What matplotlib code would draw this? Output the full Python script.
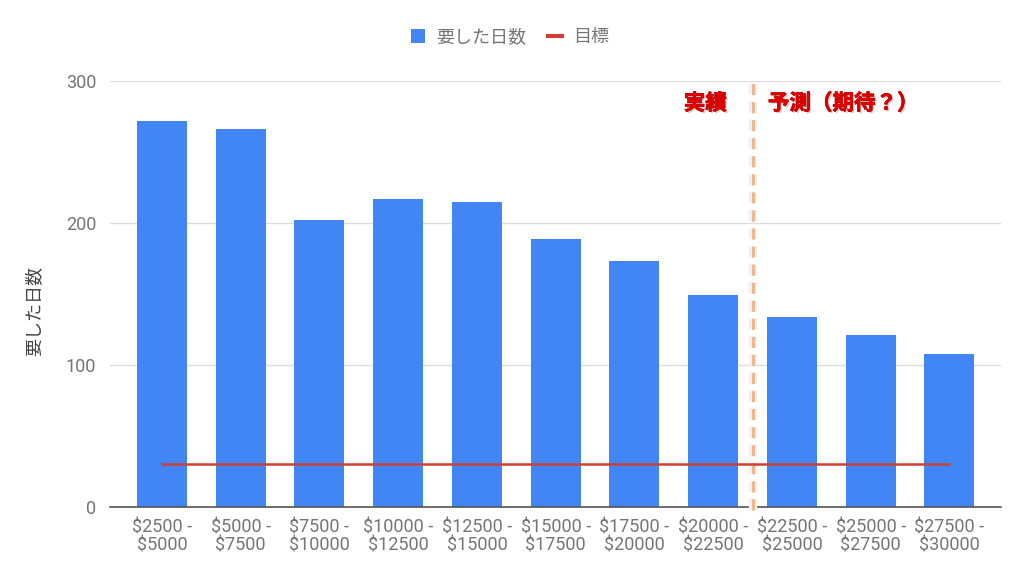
import numpy as np
import matplotlib
matplotlib.use("Agg")
import matplotlib.pyplot as plt
import matplotlib.patheffects as pe
from matplotlib.lines import Line2D
from matplotlib.patches import Patch

plt.rcParams['font.family'] = ['Roboto', 'Noto Sans CJK JP', 'DejaVu Sans']

ranges = ["$2500 -\n$5000", "$5000 -\n$7500", "$7500 -\n$10000", "$10000 -\n$12500",
          "$12500 -\n$15000", "$15000 -\n$17500", "$17500 -\n$20000", "$20000 -\n$22500",
          "$22500 -\n$25000", "$25000 -\n$27500", "$27500 -\n$30000"]
days_needed = [272, 266, 202, 217, 215, 189, 173, 149, 134, 121, 108]
target = [30] * len(ranges)
split_at = 7.5  # between actual and forecast
y_ticks = [0, 100, 200, 300]

bar_color = "#4285F4"
target_color = "#CC4136"
grey = "#757575"

fig = plt.figure(figsize=(10.2, 5.74), dpi=100)
ax = fig.add_axes([0.1078, 0.1167, 0.8732, 0.7422])

x = np.arange(len(ranges))
ax.bar(x, days_needed, width=0.635, color=bar_color, zorder=2)
ax.plot(x, target, color=target_color, lw=1.8, zorder=6)

ax.set_xlim(-0.66, len(ranges) - 1 + 0.65)
ax.set_ylim(0, 300)
ax.set_yticks(y_ticks)
ax.set_xticks(x)
ax.set_xticklabels(ranges, linespacing=1.05)
ax.tick_params(axis='both', length=0, labelsize=13, colors=grey)
ax.tick_params(axis='x', pad=8)
ax.tick_params(axis='y', pad=10)
ax.grid(axis='y', color="#DDDDDD", lw=1, zorder=0)
for s in ['top', 'right', 'left']:
    ax.spines[s].set_visible(False)
ax.spines['bottom'].set_color("#555555")
ax.spines['bottom'].set_linewidth(1.2)
ax.spines['bottom'].set_zorder(4)

ax.set_ylabel("要した日数", fontsize=13, color="#444444")
ax.yaxis.set_label_coords(-0.075, 0.46)

# actual / forecast divider
ax.plot([split_at, split_at], [-2, 300], color="#F4B183", lw=2.0, ls=(0, (4, 2.5)),
        zorder=5, clip_on=False,
        path_effects=[pe.Stroke(linewidth=6, foreground="#F0F0F0"), pe.Normal()])

label_fx = [pe.withSimplePatchShadow(offset=(1.2, -1.2), shadow_rgbFace="#999999", alpha=0.45),
            pe.withStroke(linewidth=0.5, foreground="#B00000")]
ax.text(split_at - 0.6, 284, "実績", color="#E00000", fontsize=15.5, fontweight='bold',
        ha='center', va='center', path_effects=label_fx, zorder=7)
ax.text(split_at + 1.15, 284, "予測（期待？）", color="#E00000", fontsize=15.5, fontweight='bold',
        ha='center', va='center', path_effects=label_fx, zorder=7)

handles = [Patch(facecolor=bar_color, label="要した日数"),
           Line2D([0], [0], color=target_color, lw=3, label="目標")]
fig.legend(handles=handles, loc='center', bbox_to_anchor=(0.5, 0.935), ncol=2, frameon=False,
           fontsize=13, labelcolor=grey, handlelength=0.8, handleheight=0.8,
           handletextpad=0.6, columnspacing=1.2)

fig.savefig("out.png", dpi=100)
